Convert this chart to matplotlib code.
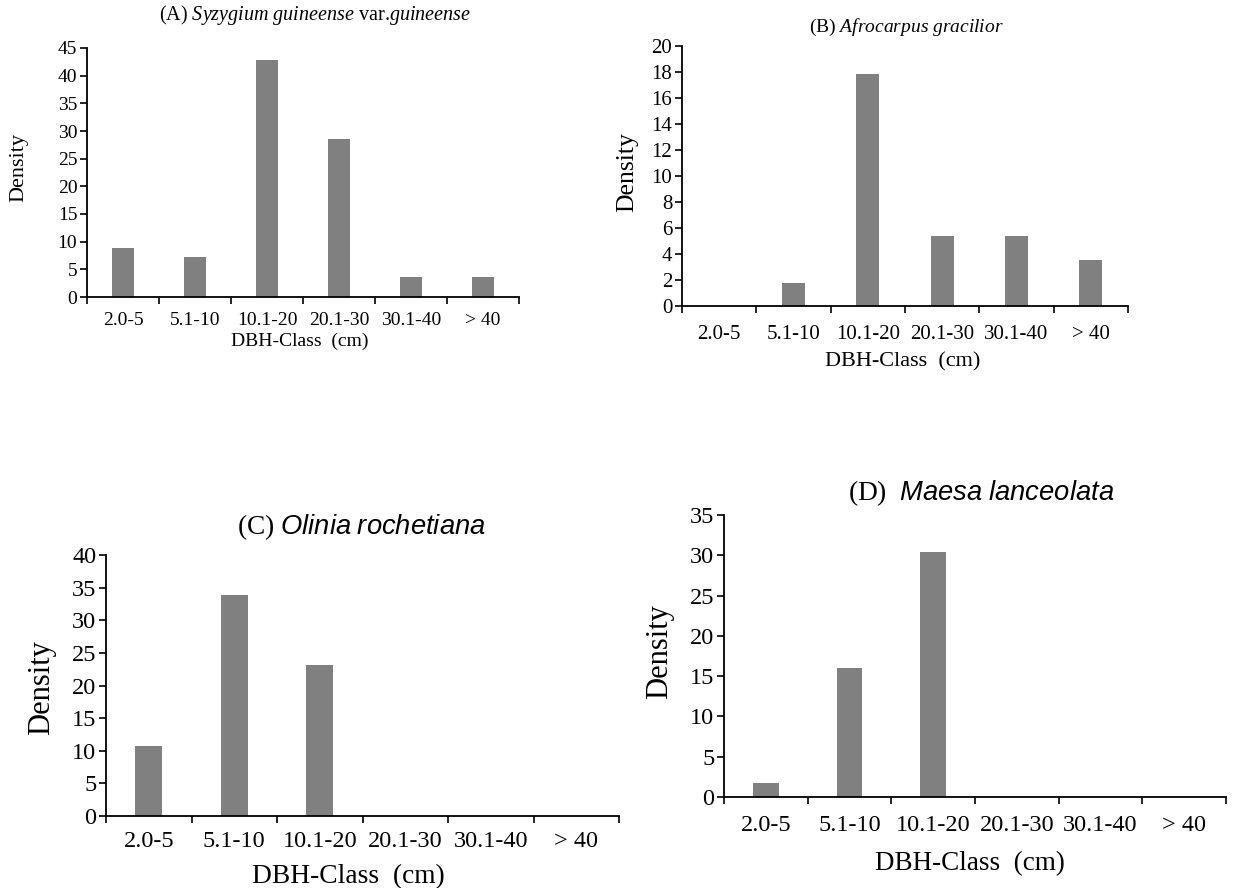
import matplotlib
matplotlib.use("Agg")
import matplotlib.pyplot as plt
from matplotlib.ticker import FixedLocator, MultipleLocator
import numpy as np

plt.rcParams['font.family'] = ['Liberation Serif', 'DejaVu Serif']
plt.rcParams['mathtext.fontset'] = 'custom'
plt.rcParams['mathtext.rm'] = 'Liberation Serif'
plt.rcParams['mathtext.it'] = 'Liberation Serif:italic'
plt.rcParams['mathtext.sf'] = 'Liberation Sans:italic'

dbh_classes = ['2.0-5', '5.1-10', '10.1-20', '20.1-30', '30.1-40', '> 40']

syzygium = [8.93, 7.14, 42.86, 28.57, 3.57, 3.57]
afrocarpus = [0.0, 1.79, 17.86, 5.36, 5.36, 3.57]
olinia = [10.71, 33.93, 23.21, 0.0, 0.0, 0.0]
maesa = [1.79, 16.07, 30.36, 0.0, 0.0, 0.0]

titles = [
    r'(A) $\mathit{Syzygium\ guineense}$ var.$\mathit{guineense}$',
    r'(B) $\mathit{Afrocarpus\ gracilior}$',
    r'(C) $\mathsf{Olinia\ rochetiana}$',
    r'(D)  $\mathsf{Maesa\ lanceolata}$',
]

W, H = 1244, 888
fig = plt.figure(figsize=(W / 100, H / 100), dpi=100)


def px(x, y):
    # pixel position (from top-left) -> figure fraction
    return x / W, 1 - y / H


def panel(values, title, box, ymax, ystep, fs, title_xy, xlab_xy, ylab_xy):
    left, top, right, bottom = box
    fx0, fy0 = px(left, bottom)
    fx1, fy1 = px(right, top)
    ax = fig.add_axes([fx0, fy0, fx1 - fx0, fy1 - fy0])

    x = np.arange(len(dbh_classes))
    ax.bar(x, values, width=0.31, color='#808080', zorder=2)

    ax.set_xlim(-0.5, len(dbh_classes) - 0.5)
    ax.set_ylim(0, ymax)
    ax.yaxis.set_major_locator(MultipleLocator(ystep))

    ax.set_xticks(x)
    ax.set_xticklabels(dbh_classes)
    ax.xaxis.set_minor_locator(FixedLocator(np.arange(-0.5, len(dbh_classes), 1.0)))
    ax.tick_params(axis='x', which='major', length=0, pad=fs['xpad'],
                   labelsize=fs['tick'])
    ax.tick_params(axis='x', which='minor', length=5, width=1.2,
                   direction='out', color='black')
    ax.tick_params(axis='y', length=5, width=1.2, direction='out',
                   pad=2, labelsize=fs['tick'])

    for s in ('top', 'right'):
        ax.spines[s].set_visible(False)
    for s in ('left', 'bottom'):
        ax.spines[s].set_linewidth(1.3)

    fig.text(*px(*title_xy), title, fontsize=fs['title'],
             ha='center', va='center')
    fig.text(*px(*xlab_xy), 'DBH-Class  (cm)', fontsize=fs['xlabel'],
             ha='center', va='center')
    fig.text(*px(*ylab_xy), 'Density', fontsize=fs['ylabel'],
             ha='center', va='center', rotation=90)
    return ax


panel(syzygium, titles[0], (87, 48, 519, 297), 45, 5,
      dict(tick=14, title=14.5, xlabel=14, ylabel=16, xpad=11),
      (315, 15), (300, 341), (19, 167))

panel(afrocarpus, titles[1], (682, 46, 1128, 306), 20, 2,
      dict(tick=15, title=14, xlabel=16, ylabel=18.5, xpad=14),
      (906, 27), (903, 362), (627, 172))

panel(olinia, titles[2], (106, 555, 619, 816), 40, 5,
      dict(tick=17.5, title=19.7, xlabel=19.8, ylabel=22, xpad=11),
      (361, 527), (348, 877), (42, 688))

panel(maesa, titles[3], (724, 515, 1226, 797), 35, 5,
      dict(tick=17.5, title=19.7, xlabel=19.5, ylabel=22, xpad=13),
      (981, 493), (970, 864), (660, 652))

fig.savefig('out.png', dpi=100, facecolor='white')
